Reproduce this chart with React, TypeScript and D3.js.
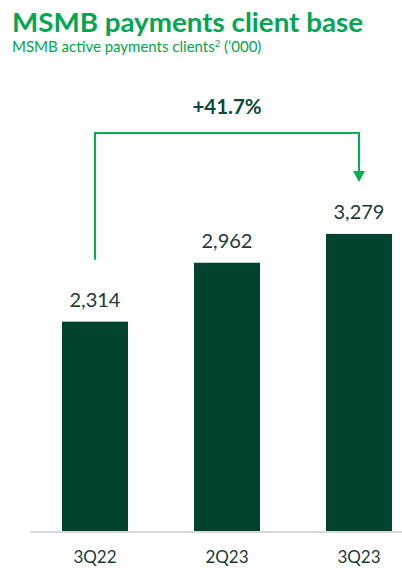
import React from "react";
import * as d3 from "d3";

const categories = ["3Q22", "2Q23", "3Q23"];
const values = [2314, 2962, 3279];
const valueLabels = ["2,314", "2,962", "3,279"];
const growthLabel = "+41.7%";
const title = "MSMB payments client base";
const subtitle = "MSMB active payments clients";

const W = 402;
const H = 577;
const FONT = "Lato, 'Open Sans', sans-serif";

export default function App() {
  const x = d3
    .scaleBand<string>()
    .domain(categories)
    .range([29, 425])
    .paddingInner(0.5)
    .paddingOuter(0.25);
  const y = d3.scaleLinear().domain([0, 3300]).range([532, 232]);

  const cx = (c: string) => (x(c) ?? 0) + x.bandwidth() / 2;
  const first = categories[0];
  const last = categories[categories.length - 1];
  const x1 = cx(first);
  const x2 = cx(last);
  const yTop = 133;
  const yStart = y(values[0]) - 62;
  const tipY = y(values[values.length - 1]) - 52;
  const arrowColor = "#00b050";

  return (
    <svg
      width={W}
      height={H}
      style={{ position: "absolute", left: 0, top: 0, background: "#fff" }}
    >
      <text
        x={12}
        y={31.5}
        fontFamily={FONT}
        fontWeight={700}
        fontSize={26.5}
        fill="#00a650"
        textLength={351}
        lengthAdjust="spacingAndGlyphs"
      >
        {title}
      </text>
      <text
        x={12}
        y={52}
        fontFamily={FONT}
        fontSize={15}
        fill="#00a650"
      >
        {subtitle}
        <tspan dy={-5} fontSize={9.5}>2</tspan>
        <tspan dy={5}> (‘000)</tspan>
      </text>

      {categories.map((c, i) => (
        <rect
          key={c}
          x={x(c)}
          y={y(values[i])}
          width={x.bandwidth()}
          height={y(0) - y(values[i])}
          fill="#02432f"
        />
      ))}

      <line x1={30} x2={402} y1={y(0)} y2={y(0)} stroke="#d9d9d9" strokeWidth={2} />

      {categories.map((c, i) => (
        <text
          key={"v" + c}
          x={cx(c)}
          y={y(values[i]) - 15}
          textAnchor="middle"
          fontFamily={FONT}
          fontSize={20}
          fill="#1b3b38"
        >
          {valueLabels[i]}
        </text>
      ))}

      {categories.map((c) => (
        <text
          key={"x" + c}
          x={cx(c)}
          y={563}
          textAnchor="middle"
          fontFamily={FONT}
          fontSize={17}
          fill="#1b3b38"
        >
          {c}
        </text>
      ))}

      <path
        d={`M${x1},${yStart} V${yTop} H${x2} V${tipY - 11}`}
        fill="none"
        stroke={arrowColor}
        strokeWidth={2}
      />
      <path
        d={`M${x2 - 6},${tipY - 11} L${x2 + 6},${tipY - 11} L${x2},${tipY} Z`}
        fill={arrowColor}
      />
      <text
        x={(x1 + x2) / 2}
        y={114}
        textAnchor="middle"
        fontFamily={FONT}
        fontWeight={700}
        fontSize={20.5}
        fill="#0b4a3a"
      >
        {growthLabel}
      </text>
    </svg>
  );
}
